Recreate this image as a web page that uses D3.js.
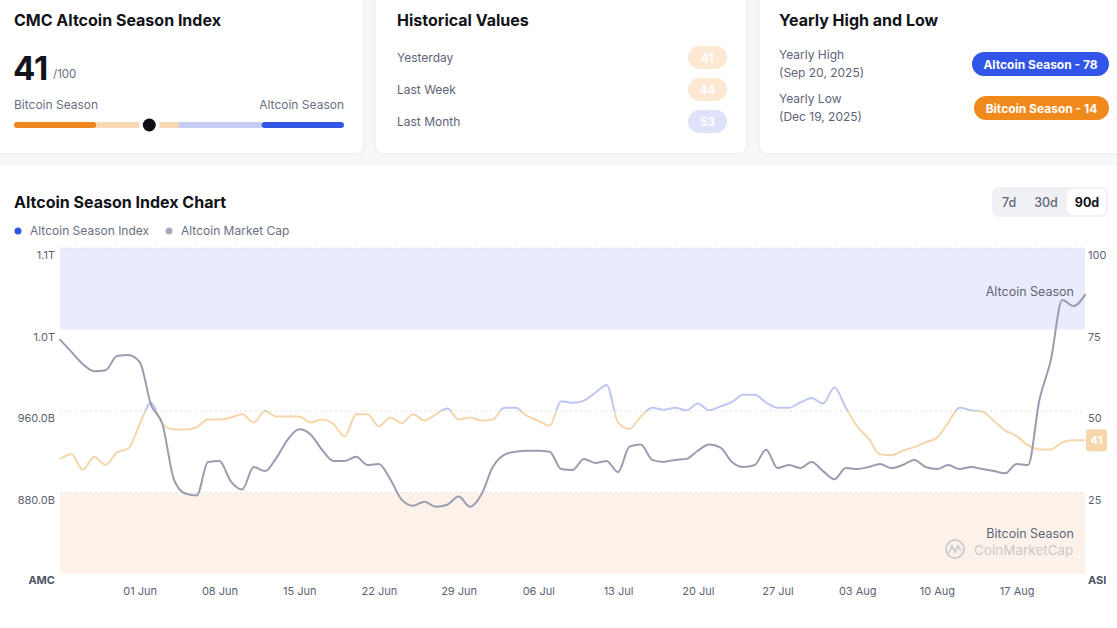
<!DOCTYPE html>
<html>
<head>
<meta charset="utf-8">
<script src="https://cdn.jsdelivr.net/npm/d3@7"></script>
<style>
  body { margin: 0; background: #f6f7f9; font-family: Inter, "Noto Sans", sans-serif; }
  svg { display: block; }
</style>
</head>
<body>
<svg id="page" width="1117" height="628"></svg>
<script>
// 90 days, one value per day starting 25 May 2025
const startDate = new Date(2025, 4, 25);
const endDate = new Date(2025, 7, 23);

// Altcoin Season Index (0-100)
const seasonIndex = [
  35.2, 36.7, 32, 36, 33.5, 37.3, 38.5, 46, 52.5, 46,
  44.3, 44.3, 45, 47.4, 47.4, 48, 49, 46.5, 50, 48.3,
  48.3, 48.3, 46.5, 47.4, 46, 42.2, 49, 49, 45.3, 48,
  46.3, 49, 47.1, 49, 50.8, 47.4, 48, 47.1, 47.4, 51,
  51, 48.5, 47, 45.5, 53, 52.5, 53.2, 55.6, 58, 46.5,
  44.5, 48.3, 51, 50.4, 51, 50.2, 52.3, 50.2, 51.4, 52.8,
  55, 55, 52.6, 51, 51, 52.6, 54, 52.3, 57.2, 51,
  45.3, 41.5, 36.7, 36.4, 37.8, 38.9, 40.4, 41.8, 46.5, 51,
  50.2, 49.8, 47, 44, 42.3, 39.5, 38.2, 38.2, 40.4, 41, 41
];

// Altcoin market cap, billions USD
const marketCap = [
  1030, 1018, 1006, 999, 1000, 1014, 1015, 1008, 966, 947,
  893, 879, 877, 910, 911, 891, 883, 905, 901, 914,
  932, 942, 937, 922, 911, 911, 915, 907, 908, 893,
  873, 867, 871, 866, 868, 876, 866, 878, 905, 917,
  920, 921, 921, 920, 903, 902, 913, 909, 911, 900,
  925, 927, 912, 910, 912, 913, 921, 927, 924, 910,
  905, 907, 922, 904, 907, 904, 910, 901, 893, 904,
  903, 905, 908, 904, 907, 912, 905, 903, 907, 903,
  905, 903, 901, 899, 908, 907, 971, 1010, 1069, 1063, 1074
];

const capTicks = [880, 960, 1040, 1120];
const indexTicks = [25, 50, 75, 100];
const xTickDates = [
  new Date(2025, 5, 1), new Date(2025, 5, 8), new Date(2025, 5, 15), new Date(2025, 5, 22),
  new Date(2025, 5, 29), new Date(2025, 6, 6), new Date(2025, 6, 13), new Date(2025, 6, 20),
  new Date(2025, 6, 27), new Date(2025, 7, 3), new Date(2025, 7, 10), new Date(2025, 7, 17)
];

const histLabels = ["Yesterday", "Last Week", "Last Month"];
const histValues = [41, 44, 53];
const currentIndex = 41;

const days = d3.timeDay.range(startDate, d3.timeDay.offset(endDate, 1));
const series = days.map((d, i) => ({ date: d, idx: seasonIndex[i], cap: marketCap[i] }));

const svg = d3.select("#page");
const defs = svg.append("defs");
const shadow = defs.append("filter").attr("id", "shadow").attr("x", "-10%").attr("y", "-10%").attr("width", "120%").attr("height", "130%");
shadow.append("feDropShadow").attr("dx", 0).attr("dy", 1).attr("stdDeviation", 2).attr("flood-color", "#000").attr("flood-opacity", 0.05);

const grayText = "#6a7082";
const darkText = "#111318";

// ---- top cards ----
function card(x, w) {
  svg.append("rect").attr("x", x).attr("y", -12).attr("width", w).attr("height", 165)
    .attr("rx", 8).attr("fill", "#fff").attr("filter", "url(#shadow)");
}
card(-10, 373);
card(376, 370);
card(760, 370);

function title(x, y, t) {
  svg.append("text").attr("x", x).attr("y", y).attr("font-size", 16).attr("font-weight", 700)
    .attr("fill", darkText).text(t);
}

// card 1
title(14, 26, "CMC Altcoin Season Index");
svg.append("text").attr("x", 13).attr("y", 80).attr("font-size", 33).attr("font-weight", 700)
  .attr("fill", darkText).text(currentIndex);
svg.append("text").attr("x", 53).attr("y", 78).attr("font-size", 11.5).attr("fill", grayText).text("/100");
svg.append("text").attr("x", 14).attr("y", 109).attr("font-size", 12).attr("fill", grayText).text("Bitcoin Season");
svg.append("text").attr("x", 344).attr("y", 109).attr("font-size", 12).attr("fill", grayText)
  .attr("text-anchor", "end").text("Altcoin Season");

const gauge = d3.scaleLinear().domain([0, 100]).range([14, 344]);
const gaugeSegs = [
  { a: 0, b: 25, c: "#f0861f" }, { a: 25, b: 50, c: "#f8d9b5" },
  { a: 50, b: 75, c: "#c6ccf4" }, { a: 75, b: 100, c: "#3456e6" }
];
svg.append("g").selectAll("rect").data(gaugeSegs).join("rect")
  .attr("x", d => gauge(d.a)).attr("width", d => gauge(d.b) - gauge(d.a))
  .attr("y", 122).attr("height", 6)
  .attr("rx", (d, i) => (i === 0 || i === 3) ? 3 : 0)
  .attr("fill", d => d.c);
svg.append("rect").attr("x", gauge(currentIndex) - 10).attr("y", 121).attr("width", 20).attr("height", 8).attr("fill", "#fff");
svg.append("circle").attr("cx", gauge(currentIndex)).attr("cy", 125).attr("r", 6.5).attr("fill", "#0d0f14");

// card 2
title(397, 26, "Historical Values");
const hist = svg.append("g");
histLabels.forEach((l, i) => {
  const y = 57 + i * 32;
  hist.append("text").attr("x", 397).attr("y", y + 5).attr("font-size", 12).attr("fill", "#5e6477").text(l);
  hist.append("rect").attr("x", 688).attr("y", y - 11).attr("width", 39).attr("height", 23).attr("rx", 11.5)
    .attr("fill", histValues[i] >= 50 ? "#dfe3fa" : "#fce8d3");
  hist.append("text").attr("x", 707.5).attr("y", y + 5).attr("font-size", 11.5).attr("font-weight", 700)
    .attr("text-anchor", "middle").attr("fill", "#fff").text(histValues[i]);
});

// card 3
title(779, 26, "Yearly High and Low");
const yl = [
  { l: "Yearly High", d: "(Sep 20, 2025)", p: "Altcoin Season - 78", c: "#3155e8", x: 972 },
  { l: "Yearly Low", d: "(Dec 19, 2025)", p: "Bitcoin Season - 14", c: "#f18a1d", x: 974 }
];
yl.forEach((r, i) => {
  const y = 59 + i * 44;
  svg.append("text").attr("x", 779).attr("y", y).attr("font-size", 12).attr("fill", "#5e6477").text(r.l);
  svg.append("text").attr("x", 779).attr("y", y + 18).attr("font-size", 12).attr("fill", "#5e6477").text(r.d);
  svg.append("rect").attr("x", r.x).attr("y", y - 7).attr("width", 1109 - r.x).attr("height", 24).attr("rx", 12).attr("fill", r.c);
  svg.append("text").attr("x", (r.x + 1109) / 2).attr("y", y + 9.5).attr("font-size", 12).attr("font-weight", 700)
    .attr("text-anchor", "middle").attr("fill", "#fff").text(r.p);
});

// ---- chart section ----
svg.append("rect").attr("x", 0).attr("y", 165).attr("width", 1117).attr("height", 463).attr("fill", "#fff");
title(14, 208, "Altcoin Season Index Chart");

const legend = [{ t: "Altcoin Season Index", c: "#3456e6", x: 18 }, { t: "Altcoin Market Cap", c: "#a9abba", x: 169 }];
legend.forEach(l => {
  svg.append("circle").attr("cx", l.x).attr("cy", 231).attr("r", 3.5).attr("fill", l.c);
  svg.append("text").attr("x", l.x + 12).attr("y", 235).attr("font-size", 12).attr("fill", grayText).text(l.t);
});

// range toggle
svg.append("rect").attr("x", 992).attr("y", 187).attr("width", 116).attr("height", 30).attr("rx", 7).attr("fill", "#eff1f4");
svg.append("rect").attr("x", 1067).attr("y", 189).attr("width", 39).attr("height", 26).attr("rx", 6).attr("fill", "#fff");
[{ t: "7d", x: 1009 }, { t: "30d", x: 1046 }, { t: "90d", x: 1087 }].forEach((b, i) => {
  svg.append("text").attr("x", b.x).attr("y", 206.5).attr("text-anchor", "middle").attr("font-size", 12.5)
    .attr("font-weight", i === 2 ? 700 : 500).attr("fill", i === 2 ? darkText : "#616778").text(b.t);
});

const x = d3.scaleTime().domain([startDate, endDate]).range([60, 1085]);
const yIdx = d3.scaleLinear().domain([0, 100]).range([574, 248]);
const yCap = d3.scaleLinear().domain([800, 1120]).range([574, 248]);

// season bands
svg.append("rect").attr("x", 60).attr("y", yIdx(100)).attr("width", 1025).attr("height", yIdx(75) - yIdx(100)).attr("fill", "#eaecfd");
svg.append("rect").attr("x", 60).attr("y", yIdx(25)).attr("width", 1025).attr("height", yIdx(0) - yIdx(25)).attr("fill", "#fdf2e9");

svg.append("g").selectAll("line").data([100, 50, 25]).join("line")
  .attr("x1", 60).attr("x2", 1085).attr("y1", d => yIdx(d)).attr("y2", d => yIdx(d))
  .attr("stroke", "#dfe1e7").attr("stroke-dasharray", "2,3");

svg.append("text").attr("x", 1074).attr("y", 296).attr("text-anchor", "end").attr("font-size", 12.5).attr("fill", "#5f6578").text("Altcoin Season");
svg.append("text").attr("x", 1074).attr("y", 538).attr("text-anchor", "end").attr("font-size", 12.5).attr("fill", "#5f6578").text("Bitcoin Season");

// watermark
const wm = svg.append("g");
wm.append("circle").attr("cx", 955).attr("cy", 549).attr("r", 9).attr("fill", "none").attr("stroke", "#cdcdd0").attr("stroke-width", 2);
wm.append("path").attr("d", "M949,553 L952,546 L955,552 L958,546 L961,551").attr("fill", "none").attr("stroke", "#cdcdd0").attr("stroke-width", 1.8);
wm.append("text").attr("x", 974).attr("y", 555).attr("font-size", 13.5).attr("fill", "#c9cacd").text("CoinMarketCap");

// axes
const leftAxis = svg.append("g").attr("transform", "translate(55,7)")
  .call(d3.axisLeft(yCap).tickValues(capTicks).tickSize(0).tickPadding(0)
    .tickFormat(v => v >= 1000 ? (v / 1000).toFixed(1) + "T" : v.toFixed(1) + "B"));
const rightAxis = svg.append("g").attr("transform", "translate(1088,7)")
  .call(d3.axisRight(yIdx).tickValues(indexTicks).tickSize(0).tickPadding(0));
const bottomAxis = svg.append("g").attr("transform", "translate(0,587)")
  .call(d3.axisBottom(x).tickValues(xTickDates).tickSize(0).tickPadding(0).tickFormat(d3.timeFormat("%d %b")));
[leftAxis, rightAxis, bottomAxis].forEach(a => {
  a.select(".domain").remove();
  a.selectAll("text").attr("font-family", "Inter, sans-serif").attr("font-size", 11).attr("fill", "#5c6273");
});

svg.append("text").attr("x", 55).attr("y", 584).attr("text-anchor", "end").attr("font-size", 11)
  .attr("font-weight", 700).attr("fill", "#4f5566").text("AMC");
svg.append("text").attr("x", 1088).attr("y", 584).attr("font-size", 11)
  .attr("font-weight", 700).attr("fill", "#4f5566").text("ASI");

// index line, coloured by side of the 50 line
const grad = defs.append("linearGradient").attr("id", "idxGrad").attr("gradientUnits", "userSpaceOnUse")
  .attr("x1", 0).attr("x2", 0).attr("y1", yIdx(100)).attr("y2", yIdx(0));
const cut = (yIdx(50) - yIdx(100)) / (yIdx(0) - yIdx(100));
grad.append("stop").attr("offset", cut).attr("stop-color", "#bfc6f3");
grad.append("stop").attr("offset", cut).attr("stop-color", "#f5d6ab");

svg.append("path").datum(series)
  .attr("fill", "none").attr("stroke", "url(#idxGrad)").attr("stroke-width", 2)
  .attr("d", d3.line().x(d => x(d.date)).y(d => yIdx(d.idx)).curve(d3.curveMonotoneX));

svg.append("path").datum(series)
  .attr("fill", "none").attr("stroke", "#9a9caf").attr("stroke-width", 2)
  .attr("stroke-linejoin", "round").attr("stroke-linecap", "round")
  .attr("d", d3.line().x(d => x(d.date)).y(d => yCap(d.cap)).curve(d3.curveMonotoneX));

// last value tag
const last = series[series.length - 1];
svg.append("rect").attr("x", 1086).attr("y", yIdx(last.idx) - 11).attr("width", 21).attr("height", 22).attr("rx", 3).attr("fill", "#f7d6ab");
svg.append("text").attr("x", 1096.5).attr("y", yIdx(last.idx) + 4).attr("text-anchor", "middle").attr("font-size", 11)
  .attr("font-weight", 700).attr("fill", "#fff").text(last.idx);
</script>
</body>
</html>
